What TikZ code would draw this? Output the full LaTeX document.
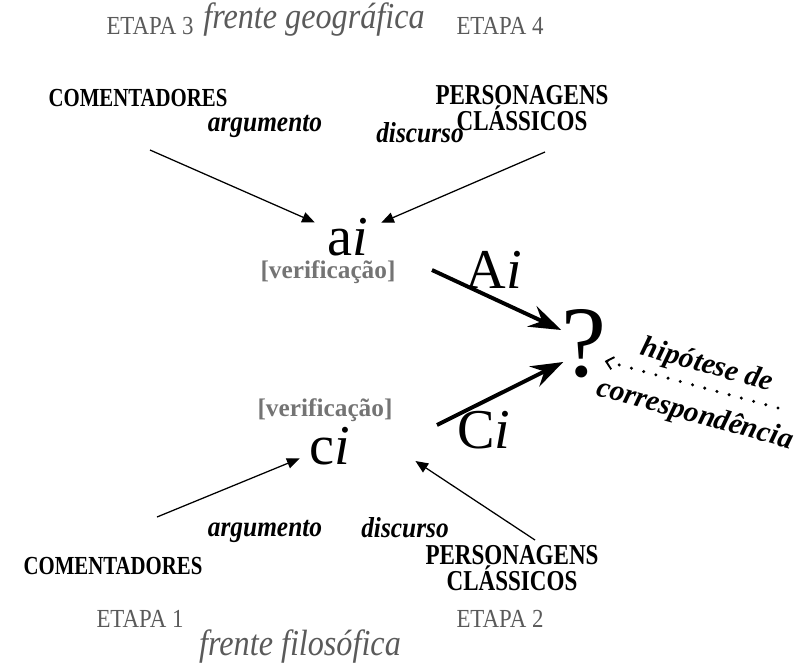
\documentclass[tikz,border=0pt]{standalone}
\usepackage{fontspec}
\setmainfont{Liberation Serif}
\newfontfamily\estreita[FakeStretch=0.8]{Liberation Serif}
\newfontfamily\media[FakeStretch=0.88]{Liberation Serif}
\usetikzlibrary{arrows.meta,calc}
\definecolor{cinza}{HTML}{5A5A5A}
\definecolor{cinzaclaro}{HTML}{747474}
\tikzset{
  etapa/.style={inner sep=0pt, text=cinza, font=\media\fontsize{18.5}{18.5}\selectfont},
  frente/.style={inner sep=0pt, text=cinza, font=\media\fontsize{26}{26}\selectfont\itshape},
  fonte/.style={inner sep=0pt, align=center, font=\estreita\fontsize{#1}{19}\selectfont\bfseries},
  fonte/.default=18.5,
  modo/.style={inner sep=0pt, font=\media\fontsize{20.5}{20.5}\selectfont\bfseries\itshape},
  hip/.style={inner sep=0pt, rotate=-15.5, font=\fontsize{21}{21}\selectfont\bfseries\itshape},
  verif/.style={inner sep=0pt, text=cinzaclaro, font=\fontsize{18}{18}\selectfont\bfseries},
  letra/.style={inner sep=0pt, font=\fontsize{40}{40}\selectfont},
  arr/.style={-{Triangle[length=9pt,width=7.5pt]}, line width=0.9pt},
  fleche/.style={-{Stealth[length=23pt,width=16pt,inset=8pt]}, line width=2.8pt},
  pontos/.style={-{Straight Barb[length=5pt,width=9pt,line width=1.3pt]}, line width=2.4pt, line cap=round, dash pattern=on 0pt off 9pt},
}
\begin{document}
\begin{tikzpicture}[x=0.025cm, y=-0.025cm]
\useasboundingbox (0,0) rectangle (803,666);
% frente geografica (etapas 3 e 4)
\node[frente] (fg) at (314,20) {frente geográfica};
\node[etapa] (e3) at (150,26) {ETAPA 3};
\node[etapa] (e4) at (500,26) {ETAPA 4};
\node[fonte] (comA) at (138,98) {COMENTADORES};
\node[fonte=20.5] (perA) at (522,108) {PERSONAGENS\\CLÁSSICOS};
\node[modo] (argA) at (265,126) {argumento};
\node[modo] (discA) at (420,133) {discurso};
\node[letra, inner xsep=9pt] (ai) at (348,237) {a\textit{i}};
\node[verif] (vA) at (328,272) {[verificação]};
% centro
\node[letra] (Ai) at (494,270) {A\textit{i}};
\node[inner sep=0pt, font=\fontsize{72}{72}\selectfont] (q) at (584,344) {?};
\node[letra] (Ci) at (484,430) {C\textit{i}};
\node[hip] (hip1) at (707,366) {hipótese de};
\node[hip] (hip2) at (695,415) {correspondência};
% frente filosofica (etapas 1 e 2)
\node[verif] (vC) at (325,410) {[verificação]};
\node[letra, inner xsep=7pt] (ci) at (330,446) {c\textit{i}};
\node[modo] (argC) at (265,531) {argumento};
\node[modo] (discC) at (405,528) {discurso};
\node[fonte] (comC) at (113,566) {COMENTADORES};
\node[fonte=20.5] (perC) at (512,568) {PERSONAGENS\\CLÁSSICOS};
\node[etapa] (e1) at (140,619) {ETAPA 1};
\node[etapa] (e2) at (500,619) {ETAPA 2};
\node[frente] (ff) at (300,647) {frente filosófica};
% pontas livres
\coordinate (tComA) at (150,150);
\coordinate (tPerA) at (545,152);
\coordinate (tAi) at (432,270);
\coordinate (tCi) at (437,425);
\coordinate (tComC) at (157,517);
\coordinate (tPerC) at (535,540);
\coordinate (tHip) at (778,408);
\draw[arr] (tComA) -- (ai);
\draw[arr] (tPerA) -- (ai);
\draw[fleche] (tAi) -- ($(q.west)+(0,-14)$);
\draw[fleche] (tCi) -- ($(q.west)+(2,18)$);
\draw[arr] (tComC) -- (ci);
\draw[arr] (tPerC) -- ($(ci.east)+(55,15)$);
\draw[pontos] (tHip) -- ($(q.east)+(-2,17)$);
\end{tikzpicture}
\end{document}
